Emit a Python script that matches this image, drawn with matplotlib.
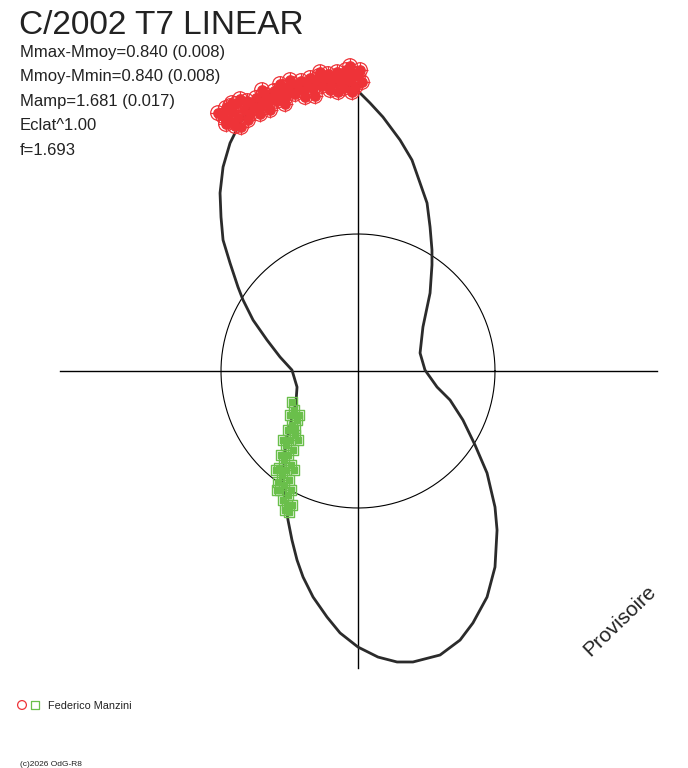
import matplotlib
matplotlib.use("Agg")
import matplotlib.pyplot as plt
import numpy as np

# polar light curve, units = circle radius
curve_x = [-0.861, -0.788, -0.693, -0.569, -0.423, -0.277, -0.131, -0.007, 0.088, 0.182,
           0.307, 0.394, 0.453, 0.504, 0.526, 0.540, 0.540, 0.526, 0.474, 0.453,
           0.489, 0.577, 0.672, 0.766, 0.854, 0.942, 1.000, 1.015, 1.000, 0.942,
           0.839, 0.745, 0.599, 0.401, 0.285, 0.146, 0.000, -0.131, -0.226, -0.328,
           -0.401, -0.445, -0.482, -0.511, -0.533, -0.547, -0.533, -0.496, -0.453, -0.445,
           -0.482, -0.569, -0.664, -0.766, -0.839, -0.876, -0.934, -0.985, -1.000, -1.007,
           -0.985, -0.934, -0.861]
curve_y = [1.810, 1.920, 2.000, 2.051, 2.073, 2.095, 2.095, 2.051, 1.956, 1.854,
           1.686, 1.540, 1.372, 1.226, 1.051, 0.883, 0.774, 0.569, 0.321, 0.131,
           0.007, -0.117, -0.212, -0.358, -0.540, -0.745, -0.993, -1.161, -1.431, -1.650,
           -1.839, -1.964, -2.073, -2.124, -2.124, -2.088, -2.015, -1.912, -1.796, -1.650,
           -1.504, -1.380, -1.234, -1.088, -0.942, -0.796, -0.577, -0.394, -0.234, -0.117,
           0.007, 0.102, 0.226, 0.372, 0.518, 0.613, 0.788, 0.956, 1.124, 1.299,
           1.489, 1.664, 1.810]

# maxima (red circles)
max_x = [-0.985, -0.964, -0.942, -0.920, -0.891, -0.876, -0.854, -0.832, -0.810, -0.788,
         -0.766, -0.745, -0.723, -0.701, -0.679, -0.657, -0.635, -0.613, -0.591, -0.569,
         -0.547, -0.526, -0.504, -0.482, -0.460, -0.438, -0.416, -0.394, -0.372, -0.350,
         -0.328, -0.307, -0.285, -0.263, -0.241, -0.219, -0.197, -0.175, -0.153, -0.131,
         -0.109, -0.088, -0.066, -0.044, -0.022, 0.000, 0.015, 0.029, -0.102, -0.204,
         -0.387, -0.642, -0.803, -0.920, -0.964, -0.898, -0.715, -0.533, -0.314, -0.146,
         -0.044, -1.022, -0.861, -0.701, -0.496, -0.277, -0.058, -0.569, -0.934]
max_y = [1.861, 1.920, 1.825, 1.891, 1.949, 1.847, 1.781, 1.905, 1.971, 1.876,
         1.934, 1.993, 1.912, 1.971, 2.015, 1.949, 2.000, 2.044, 1.971, 2.029,
         2.073, 2.000, 2.051, 2.095, 2.022, 2.073, 2.117, 2.044, 2.095, 2.139,
         2.066, 2.117, 2.153, 2.080, 2.131, 2.168, 2.095, 2.146, 2.182, 2.109,
         2.153, 2.197, 2.124, 2.168, 2.073, 2.153, 2.197, 2.109, 2.066, 2.051,
         2.000, 1.905, 1.832, 1.956, 1.803, 1.788, 1.876, 1.949, 2.007, 2.036,
         2.036, 1.883, 1.985, 2.051, 2.124, 2.182, 2.226, 2.095, 1.934]

# minima (green squares)
min_x = [-0.467, -0.496, -0.445, -0.482, -0.511, -0.460, -0.496, -0.526, -0.474, -0.511,
         -0.540, -0.489, -0.526, -0.555, -0.504, -0.540, -0.569, -0.511, -0.547, -0.577,
         -0.518, -0.533, -0.489, -0.584, -0.460, -0.562, -0.504, -0.482, -0.599, -0.591,
         -0.431, -0.438, -0.467, -0.482, -0.547]
min_y = [-0.285, -0.321, -0.358, -0.394, -0.431, -0.467, -0.504, -0.540, -0.577, -0.613,
         -0.650, -0.686, -0.723, -0.759, -0.796, -0.832, -0.869, -0.905, -0.942, -0.708,
         -0.978, -1.015, -0.869, -0.810, -0.416, -0.613, -1.029, -0.226, -0.723, -0.869,
         -0.321, -0.504, -0.723, -0.978, -0.504]

title = "C/2002 T7 LINEAR"
info_lines = ["Mmax-Mmoy=0.840 (0.008)", "Mmoy-Mmin=0.840 (0.008)",
              "Mamp=1.681 (0.017)", "Eclat^1.00", "f=1.693"]
observer = "Federico Manzini"
copyright_txt = "(c)2026 OdG-R8"

W, H = 688, 768
fig = plt.figure(figsize=(W / 100, H / 100), dpi=100)
ax = fig.add_axes([0, 0, 1, 1])
S = 137.0  # px per unit
ax.set_xlim(-358 / S, (W - 358) / S)
ax.set_ylim((371 - H) / S, 371 / S)
ax.axis("off")

dark = "#2b2b2b"
ax.plot([-2.175, 2.18], [0, 0], color="black", lw=1.0)
ax.plot([0, 0], [-2.17, 2.16], color="black", lw=1.0)
t = np.linspace(0, 2 * np.pi, 400)
ax.plot(np.cos(t), np.sin(t), color="black", lw=0.8)

ax.plot(curve_x, curve_y, color=dark, lw=2.0, solid_joinstyle="round")

red = "#ee3338"
green = "#6abf4b"
ax.scatter(min_x, min_y, marker="s", s=55, facecolors="none", edgecolors=green, linewidths=1.0, zorder=3)
ax.scatter(min_x, min_y, marker="s", s=22, color=green, zorder=3)
ax.scatter(max_x, max_y, marker="o", s=110, facecolors="none", edgecolors=red, linewidths=0.9, zorder=3)
ax.scatter(max_x, max_y, marker="+", s=130, color=red, linewidths=0.9, zorder=3)
ax.scatter(max_x, max_y, marker="o", s=45, color=red, zorder=3)


def px(x, y):
    return x / W, 1 - y / H


font = "Liberation Sans"
fig.text(*px(19, 34), title, fontsize=24, family=font, color="#222222", va="baseline")
for i, line in enumerate(info_lines):
    fig.text(*px(20, 57 + 24.5 * i), line, fontsize=12, family=font, color="#222222", va="baseline")

fig.text(*px(590, 657), "Provisoire", fontsize=15, family=font, color="#222222",
         rotation=44, rotation_mode="anchor", va="baseline", ha="left")

ax.scatter([(22 - 358) / S], [(371 - 705) / S], marker="o", s=40, facecolors="none", edgecolors=red, linewidths=0.9)
ax.scatter([(35 - 358) / S], [(371 - 705) / S], marker="s", s=30, facecolors="none", edgecolors=green, linewidths=0.9)
fig.text(*px(48, 709), observer, fontsize=7.8, family=font, color="#222222", va="baseline")
fig.text(*px(20, 766), copyright_txt, fontsize=6, family=font, color="#222222", va="baseline")

fig.savefig("out.png", dpi=100)
